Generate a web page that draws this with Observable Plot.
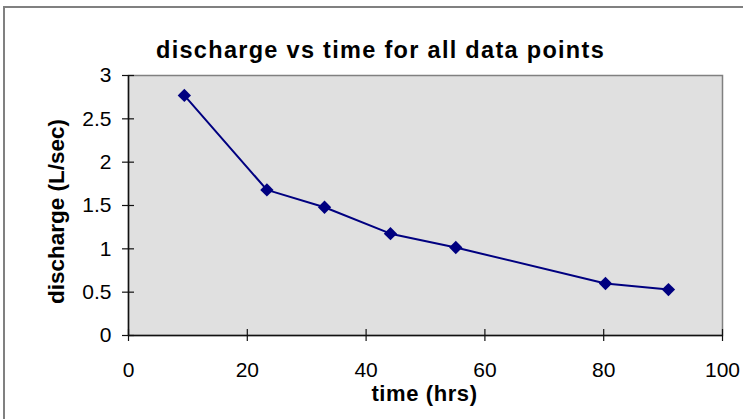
<!DOCTYPE html>
<html>
<head>
<meta charset="utf-8">
<script src="https://cdn.jsdelivr.net/npm/d3@7"></script>
<script src="https://cdn.jsdelivr.net/npm/@observablehq/plot@0.6"></script>
<style>
  html, body { margin: 0; padding: 0; background: #fff; }
  #wrap { position: relative; width: 743px; height: 419px; overflow: hidden; background: #fff; }
  #border { position: absolute; left: 3px; top: 6px; width: 900px; height: 600px;
            border: 2px solid #808080; pointer-events: none; }
  svg { display: block; }
</style>
</head>
<body>
<div id="wrap"><div id="chart"></div><div id="border"></div></div>
<script>
const chartTitle = "discharge vs time for all data points";
const xTitle = "time (hrs)";
const yTitle = "discharge (L/sec)";
const timeHrs = [9.4, 23.3, 33.0, 44.1, 55.1, 80.3, 90.9];
const discharge = [2.77, 1.68, 1.48, 1.175, 1.015, 0.60, 0.53];
const xTicks = [0, 20, 40, 60, 80, 100];
const yTicks = [0, 0.5, 1, 1.5, 2, 2.5, 3];

const data = timeHrs.map((t, i) => ({time: t, q: discharge[i]}));
const fmt = d => String(d);

const plot = Plot.plot({
  width: 743,
  height: 419,
  marginLeft: 128,
  marginRight: 21,
  marginTop: 75,
  marginBottom: 84,
  style: {fontFamily: "'Liberation Sans', Arial, sans-serif", fontSize: "21px", color: "#000", background: "transparent"},
  x: {domain: [0, 100], ticks: xTicks, tickSize: 0, tickPadding: 27, tickFormat: fmt, label: null},
  y: {domain: [0, 3], ticks: yTicks, tickSize: 0, tickPadding: 17, tickFormat: fmt, label: null},
  marks: [
    Plot.frame({fill: "#e0e0e0", stroke: "#808080", strokeWidth: 1.5}),
    Plot.ruleX([0], {stroke: "#111", strokeWidth: 1.5}),
    Plot.ruleY([0], {stroke: "#111", strokeWidth: 1.5}),
    Plot.ruleX(xTicks, {x: d => d, y1: 0, y2: 0, insetTop: -6, insetBottom: -6, stroke: "#111", strokeWidth: 1.2}),
    Plot.ruleY(yTicks, {y: d => d, x1: 0, x2: 0, insetLeft: -6, insetRight: -6, stroke: "#111", strokeWidth: 1.2}),
    Plot.line(data, {x: "time", y: "q", stroke: "#000080", strokeWidth: 2}),
    Plot.dot(data, {x: "time", y: "q", symbol: "diamond2", r: 6, fill: "#000080", stroke: "none"}),
    Plot.text([chartTitle], {frameAnchor: "top", dx: -45, dy: -25, lineAnchor: "middle", fontSize: 23.5, fontWeight: "bold"}),
    Plot.text([xTitle], {frameAnchor: "bottom", dx: -1, dy: 50, lineAnchor: "top", fontSize: 22, fontWeight: "bold"}),
    Plot.text([yTitle], {frameAnchor: "left", dx: -72, dy: 6, rotate: -90, textAnchor: "middle", lineAnchor: "middle", fontSize: 22.5, fontWeight: "bold"})
  ]
});
d3.select(plot).selectAll("text").each(function() {
  const t = this.textContent;
  if (t === chartTitle) d3.select(this).style("letter-spacing", "1.3px");
  if (t === xTitle) d3.select(this).style("letter-spacing", "0.6px");
});
document.getElementById("chart").appendChild(plot);
</script>
</body>
</html>
